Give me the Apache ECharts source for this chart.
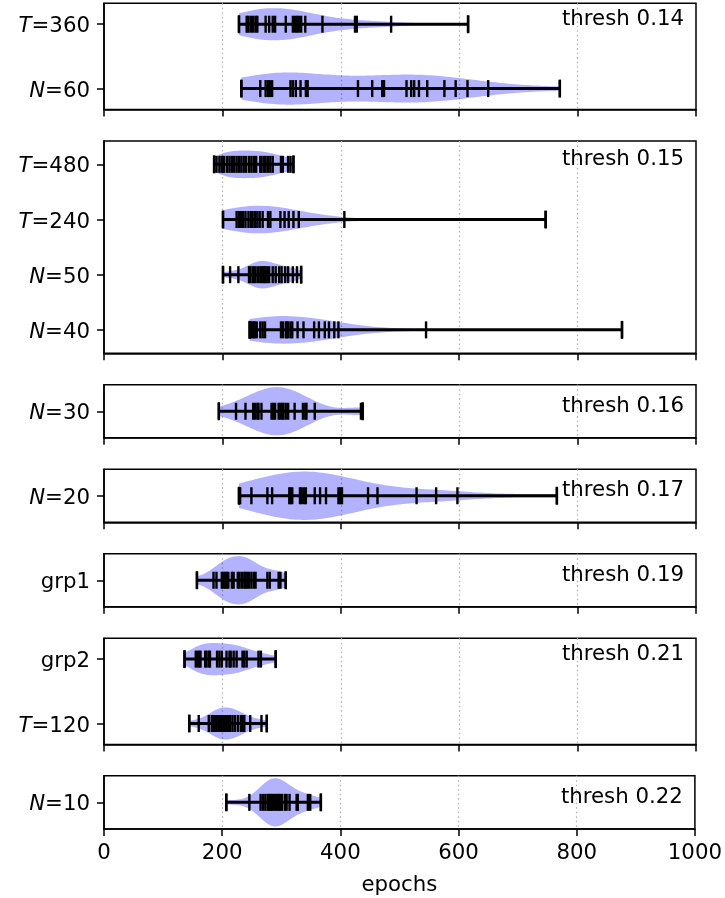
<!DOCTYPE html>
<html><head><meta charset="utf-8">
<script src="https://cdn.jsdelivr.net/npm/echarts@6/dist/echarts.min.js"></script>
<style>html,body{margin:0;padding:0;background:#fff}#c{width:725px;height:898px}</style>
</head><body><div id="c"></div>
<script>
// ---- data (epochs per run) ----
const T360 = [228, 241, 244, 248, 252, 256, 259, 273, 279, 285, 289, 307, 319, 323, 326, 329, 333, 340, 369, 424, 427, 485, 615];
const N60  = [232, 264, 273, 277, 280, 284, 315, 319, 324, 332, 341, 344, 429, 453, 470, 473, 511, 519, 524, 532, 546, 575, 594, 614, 649, 770];
const T480 = [186, 190, 195, 199, 203, 208, 212, 216, 220, 224, 228, 232, 236, 240, 245, 249, 253, 257, 264, 266, 270, 273, 277, 281, 285, 299, 302, 311, 315, 320];
const T240 = [201, 224, 228, 231, 235, 239, 244, 248, 251, 255, 259, 263, 268, 277, 281, 298, 305, 312, 320, 329, 406, 746];
const N50  = [201, 213, 227, 245, 247, 251, 253, 256, 260, 264, 266, 269, 271, 273, 276, 279, 285, 290, 296, 300, 306, 311, 319, 326, 333];
const N40  = [246, 248, 251, 253, 255, 258, 264, 268, 272, 299, 302, 307, 309, 311, 315, 318, 327, 337, 355, 363, 373, 380, 389, 396, 544, 875];
const N30  = [194, 223, 239, 252, 255, 259, 261, 266, 283, 286, 289, 295, 298, 301, 303, 307, 311, 322, 336, 340, 342, 356, 434, 437];
const N20  = [228, 230, 249, 276, 284, 313, 315, 318, 331, 334, 338, 341, 356, 365, 375, 396, 399, 402, 446, 462, 528, 561, 597, 765];
const GRP1 = [157, 185, 190, 199, 202, 205, 207, 210, 216, 219, 226, 229, 233, 237, 239, 242, 245, 249, 253, 256, 276, 280, 295, 298, 307];
const GRP2 = [136, 155, 158, 161, 163, 171, 173, 177, 179, 191, 195, 199, 207, 212, 214, 219, 224, 234, 237, 241, 261, 265, 290];
const T120 = [144, 160, 177, 182, 186, 189, 193, 196, 199, 202, 204, 207, 210, 213, 217, 221, 226, 231, 234, 237, 247, 266, 275];
const N10  = [207, 246, 265, 269, 273, 277, 279, 282, 284, 287, 290, 293, 296, 298, 301, 306, 309, 314, 326, 328, 345, 349, 367];

const panelData   = [[T360, N60], [T480, T240, N50, N40], [N30], [N20], [GRP1], [GRP2, T120], [N10]];
const panelLabels = [['T=360', 'N=60'], ['T=480', 'T=240', 'N=50', 'N=40'], ['N=30'], ['N=20'], ['grp1'], ['grp2', 'T=120'], ['N=10']];
const threshLabels = ['thresh 0.14', 'thresh 0.15', 'thresh 0.16', 'thresh 0.17', 'thresh 0.19', 'thresh 0.21', 'thresh 0.22'];
const xMin = 0, xMax = 1000, xInterval = 200;
const xTitle = 'epochs';

// ---- layout ----
const FONT = 'DejaVu Sans';
const FS = 21.3;
const LEFT = 104, RIGHT = 29;
const UNIT = 53.1, GAP = 31.4, TOP0 = 3.3;

function kde(vals) {
  const n = vals.length;
  const mean = vals.reduce((a, b) => a + b, 0) / n;
  const variance = vals.reduce((a, b) => a + (b - mean) * (b - mean), 0) / (n - 1);
  const bw = Math.sqrt(variance) * Math.pow(n, -1 / 5);
  const lo = Math.min(...vals), hi = Math.max(...vals);
  const pts = [];
  for (let i = 0; i < 100; i++) {
    const c = lo + (hi - lo) * i / 99;
    let d = 0;
    for (const v of vals) { const z = (c - v) / bw; d += Math.exp(-0.5 * z * z); }
    pts.push([c, d]);
  }
  const mx = Math.max(...pts.map(p => p[1]));
  return pts.map(p => [p[0], 0.25 * p[1] / mx]);
}

function fmtLabel(s) {
  const m = /^([TN])(=.*)$/.exec(s);
  return m ? '{it|' + m[1] + '}{n|' + m[2] + '}' : '{n|' + s + '}';
}

const grids = [], xAxes = [], yAxes = [], series = [];
let curTop = TOP0;
const nP = panelData.length;
panelData.forEach((rows, pi) => {
  const n = rows.length;
  const h = UNIT * n;
  const margin = 0.05 * (n - 0.5);
  const yMin = -0.25 - margin, yMax = n - 1 + 0.25 + margin;
  grids.push({ left: LEFT, right: RIGHT, top: curTop, height: h, show: true, borderColor: '#000', borderWidth: 1.5, backgroundColor: 'transparent' });
  const last = pi === nP - 1;
  xAxes.push({
    gridIndex: pi, type: 'value', min: xMin, max: xMax, interval: xInterval,
    axisLine: { show: true, onZero: false, lineStyle: { color: '#000', width: 1.5 } },
    axisTick: { show: true, length: 7, lineStyle: { color: '#000', width: 1.5 } },
    axisLabel: { show: last, margin: 14, color: '#000', fontFamily: FONT, fontSize: FS, showMinLabel: true, showMaxLabel: true, formatter: v => String(v) },
    splitLine: { show: true, showMinLine: false, showMaxLine: false, lineStyle: { color: '#b0b0b0', type: [1.5, 3], width: 1.2 } },
    name: last ? xTitle : '', nameLocation: 'middle', nameGap: 46,
    nameTextStyle: { color: '#000', fontFamily: FONT, fontSize: FS }
  });
  const labels = panelLabels[pi];
  const idx = labels.map((_, i) => i);
  yAxes.push({
    gridIndex: pi, type: 'value', inverse: true, min: yMin, max: yMax,
    axisLine: { show: true, onZero: false, lineStyle: { color: '#000', width: 1.5 } },
    axisTick: { show: true, length: 7, customValues: idx, lineStyle: { color: '#000', width: 1.5 } },
    axisLabel: {
      show: true, margin: 14, customValues: idx, color: '#000', fontFamily: FONT, fontSize: FS,
      formatter: v => fmtLabel(labels[Math.round(v)]),
      rich: {
        it: { fontStyle: 'italic', fontFamily: FONT, fontSize: FS, color: '#000', padding: [5, 0, 0, 0] },
        n: { fontFamily: FONT, fontSize: FS, color: '#000', padding: [5, 0, 0, 0] }
      }
    },
    splitLine: { show: false }
  });
  const items = rows.map((vals, r) => [Math.min(...vals), r, Math.max(...vals)]);
  // violins
  series.push({
    type: 'custom', xAxisIndex: pi, yAxisIndex: pi, data: items, encode: { x: [0, 2], y: 1 }, z: 1,
    renderItem: (params, api) => {
      const r = api.value(1);
      const dens = kde(rows[r]);
      const topPts = dens.map(p => api.coord([p[0], r - p[1]]));
      const botPts = dens.slice().reverse().map(p => api.coord([p[0], r + p[1]]));
      return { type: 'polygon', shape: { points: topPts.concat(botPts) }, style: { fill: 'rgba(0,0,255,0.3)' } };
    }
  });
  // bars, caps and run ticks
  series.push({
    type: 'custom', xAxisIndex: pi, yAxisIndex: pi, data: items, encode: { x: [0, 2], y: 1 }, z: 3,
    renderItem: (params, api) => {
      const r = api.value(1);
      const vals = rows[r];
      const a = api.coord([api.value(0), r]), b = api.coord([api.value(2), r]);
      const children = [{ type: 'line', shape: { x1: a[0], y1: a[1], x2: b[0], y2: b[1] }, style: { stroke: '#000', lineWidth: 3 } }];
      vals.forEach(v => {
        const p = api.coord([v, r]);
        children.push({ type: 'line', shape: { x1: p[0], y1: p[1] - 8.5, x2: p[0], y2: p[1] + 8.5 }, style: { stroke: '#000', lineWidth: 2.4 } });
      });
      [a, b].forEach(p => children.push({ type: 'line', shape: { x1: p[0], y1: p[1] - 9, x2: p[0], y2: p[1] + 9 }, style: { stroke: '#000', lineWidth: 2.4 } }));
      return { type: 'group', children };
    }
  });
  // threshold text
  series.push({
    type: 'custom', xAxisIndex: pi, yAxisIndex: pi, data: [[xMax, 0]], encode: { x: 0, y: 1 }, z: 5,
    renderItem: (params, api) => {
      const p = api.coord([xMax, 0]);
      return { type: 'text', style: { text: threshLabels[pi], x: p[0] - 12, y: p[1] - 5, align: 'right', verticalAlign: 'middle', fill: '#000', fontFamily: FONT, fontSize: FS } };
    }
  });
  curTop += h + GAP;
});

const chart = echarts.init(document.getElementById('c'), null, { renderer: 'canvas' });
chart.setOption({
  animation: false,
  backgroundColor: '#fff',
  textStyle: { fontFamily: FONT },
  grid: grids, xAxis: xAxes, yAxis: yAxes, series
});
</script></body></html>
